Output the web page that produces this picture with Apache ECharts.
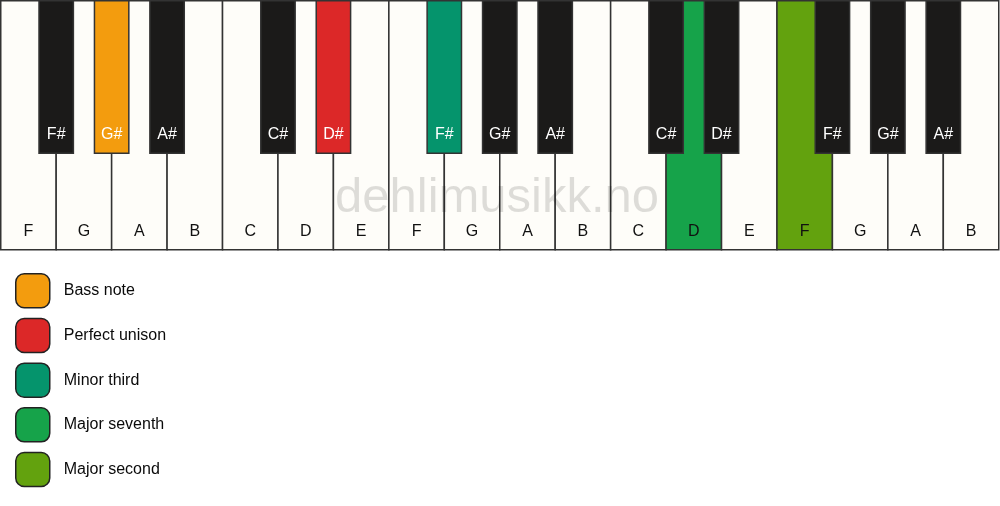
<!DOCTYPE html>
<html>
<head>
<meta charset="utf-8">
<script src="https://cdn.jsdelivr.net/npm/echarts@6/dist/echarts.min.js"></script>
<style>
  html, body { margin: 0; padding: 0; background: #fff; }
  #chart { width: 1000px; height: 506px; }
</style>
</head>
<body>
<div id="chart"></div>
<script>
// keyboard: F .. B twice-and-a-half octaves
const whiteKeys = ['F', 'G', 'A', 'B', 'C', 'D', 'E', 'F', 'G', 'A', 'B', 'C', 'D', 'E', 'F', 'G', 'A', 'B'];
const blackKeys = ['F#', 'G#', 'A#', 'C#', 'D#', 'F#', 'G#', 'A#', 'C#', 'D#', 'F#', 'G#', 'A#'];
// black key sits on the boundary between white key n-1 and n
const blackKeyPositions = [1, 2, 3, 5, 6, 8, 9, 10, 12, 13, 15, 16, 17];

const intervalNames = ['Bass note', 'Perfect unison', 'Minor third', 'Major seventh', 'Major second'];
const intervalColors = ['#f39c0e', '#dc2828', '#05946c', '#16a34a', '#63a20e'];
const highlightType = ['black', 'black', 'black', 'white', 'white'];
const highlightIndex = [1, 4, 5, 12, 14];

const FONT = '"Liberation Sans", Arial, sans-serif';
const BLACK_W = 0.31;    // half width, in white-key units
const BLACK_H = 0.612;   // fraction of keyboard height

function keyColour(type, i) {
    const k = highlightType.findIndex((t, j) => t === type && highlightIndex[j] === i);
    return k >= 0 ? intervalColors[k] : null;
}

const chart = echarts.init(document.getElementById('chart'));

chart.setOption({
    animation: false,
    grid: { left: 0.75, top: 0.75, right: 1.25, height: 249 },
    xAxis: { type: 'value', min: 0, max: whiteKeys.length, show: false },
    yAxis: { type: 'value', min: 0, max: 1, inverse: true, show: false },
    legend: {
        orient: 'vertical',
        left: 10,
        top: 268,
        icon: 'roundRect',
        itemWidth: 34,
        itemHeight: 34,
        itemGap: 9.2,
        selectedMode: false,
        itemStyle: { borderColor: '#222', borderWidth: 1.5 },
        textStyle: { fontSize: 16, color: '#0a0a0a', fontFamily: FONT, padding: [0, 0, 0, 9] },
        data: intervalNames
    },
    graphic: [{
        type: 'text',
        left: 335,
        top: 174,
        z: 10,
        style: {
            text: 'dehlimusikk.no',
            font: '49px ' + FONT,
            fill: 'rgba(0,0,0,0.13)'
        }
    }],
    series: [
        {
            type: 'custom',
            name: 'white',
            z: 2,
            clip: false,
            data: whiteKeys.map((n, i) => [i]),
            renderItem: (params, api) => {
                const i = api.value(0);
                const p0 = api.coord([i, 0]);
                const p1 = api.coord([i + 1, 1]);
                const lp = api.coord([i + 0.5, 0.928]);
                const fill = keyColour('white', params.dataIndex) || '#fefdf9';
                return {
                    type: 'group',
                    children: [{
                        type: 'rect',
                        shape: { x: p0[0], y: p0[1], width: p1[0] - p0[0], height: p1[1] - p0[1] },
                        style: { fill: fill, stroke: '#333', lineWidth: 1.5 }
                    }, {
                        type: 'text',
                        x: lp[0], y: lp[1],
                        style: {
                            text: whiteKeys[params.dataIndex],
                            font: '16px ' + FONT,
                            fill: '#111',
                            align: 'center',
                            verticalAlign: 'middle'
                        }
                    }]
                };
            }
        },
        {
            type: 'custom',
            name: 'black',
            z: 3,
            clip: false,
            data: blackKeyPositions.map(p => [p]),
            renderItem: (params, api) => {
                const p = api.value(0);
                const p0 = api.coord([p - BLACK_W, 0]);
                const p1 = api.coord([p + BLACK_W, BLACK_H]);
                const lp = api.coord([p, 0.538]);
                const fill = keyColour('black', params.dataIndex) || '#1b1a19';
                return {
                    type: 'group',
                    children: [{
                        type: 'rect',
                        shape: { x: p0[0], y: p0[1], width: p1[0] - p0[0], height: p1[1] - p0[1] },
                        style: { fill: fill, stroke: '#333', lineWidth: 1.5 }
                    }, {
                        type: 'text',
                        x: lp[0], y: lp[1],
                        style: {
                            text: blackKeys[params.dataIndex],
                            font: '16px ' + FONT,
                            fill: '#fff',
                            align: 'center',
                            verticalAlign: 'middle'
                        }
                    }]
                };
            }
        }
    ].concat(intervalNames.map((name, i) => ({
        // legend-only entries
        type: 'bar',
        name: name,
        data: [],
        itemStyle: { color: intervalColors[i] }
    })))
});
</script>
</body>
</html>
